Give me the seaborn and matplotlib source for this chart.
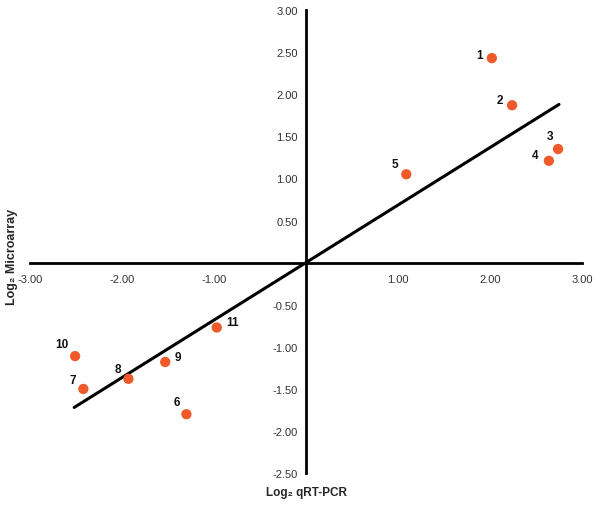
import matplotlib
matplotlib.use("Agg")
import matplotlib.pyplot as plt
import seaborn as sns
import pandas as pd

# data
gene_ids = ["1", "2", "3", "4", "5", "6", "7", "8", "9", "10", "11"]
qrtpcr = [2.02, 2.24, 2.74, 2.64, 1.09, -1.30, -2.42, -1.93, -1.53, -2.51, -0.97]
microarray = [2.43, 1.87, 1.35, 1.21, 1.05, -1.80, -1.50, -1.38, -1.18, -1.11, -0.77]
fit_x = [-2.52, 2.75]
fit_y = [-1.72, 1.88]
x_ticks = [-3, -2, -1, 1, 2, 3]
y_ticks = [-2.5, -2.0, -1.5, -1.0, -0.5, 0.5, 1.0, 1.5, 2.0, 2.5, 3.0]

sns.set_style("white")
plt.rcParams["font.family"] = ["Liberation Sans", "DejaVu Sans"]

df = pd.DataFrame({"qRT-PCR": qrtpcr, "Microarray": microarray, "id": gene_ids})
fit = pd.DataFrame({"x": fit_x, "y": fit_y})

fig = plt.figure(figsize=(6.0, 5.06), dpi=100)
ax = fig.add_axes([0.05, 0.063, 0.92, 0.915])

sns.lineplot(data=fit, x="x", y="y", ax=ax, color="black", linewidth=2.2, zorder=2)
sns.scatterplot(data=df, x="qRT-PCR", y="Microarray", ax=ax, color="#EE5A2A",
                s=55, edgecolor="none", zorder=3)

# label offsets in pixels (dx, dy)
label_offsets = [(-12, 3), (-12, 5), (-8, 13), (-14, 6), (-11, 10),
                 (-10, 12), (-11, 9), (-11, 10), (13, 5), (-13, 12), (16, 5)]
for gid, x, y, (dx, dy) in zip(gene_ids, qrtpcr, microarray, label_offsets):
    ax.annotate(gid, (x, y), xytext=(dx * 0.72, dy * 0.72), textcoords="offset points",
                ha="center", va="center", fontsize=8.5, fontweight="bold", color="#111111")

ax.set_xlim(-3, 3)
ax.set_ylim(-2.5, 3)
ax.spines["left"].set_position(("data", 0))
ax.spines["bottom"].set_position(("data", 0))
ax.spines["right"].set_visible(False)
ax.spines["top"].set_visible(False)
for s in ("left", "bottom"):
    ax.spines[s].set_linewidth(2.0)
    ax.spines[s].set_color("black")

ax.set_xticks(x_ticks)
ax.set_xticklabels([f"{v:.2f}" for v in x_ticks])
ax.set_yticks(y_ticks)
ax.set_yticklabels([f"{v:.2f}" for v in y_ticks])
ax.tick_params(axis="x", direction="in", length=4, width=1.5, labelsize=8, colors="black",
               labelcolor="#333333", pad=8)
ax.tick_params(axis="y", direction="out", length=3, width=1.5, labelsize=8, colors="black",
               labelcolor="#333333", pad=3)

ax.set_xlabel("")
ax.set_ylabel("")
fig.text(306 / 600, 1 - 493 / 506, "Log₂ qRT-PCR", ha="center", va="center",
         fontsize=8.5, fontweight="bold")
fig.text(12 / 600, 1 - 257 / 506, "Log₂ Microarray", ha="center", va="center",
         rotation=90, fontsize=9, fontweight="bold")

fig.savefig("out.png", dpi=100)
